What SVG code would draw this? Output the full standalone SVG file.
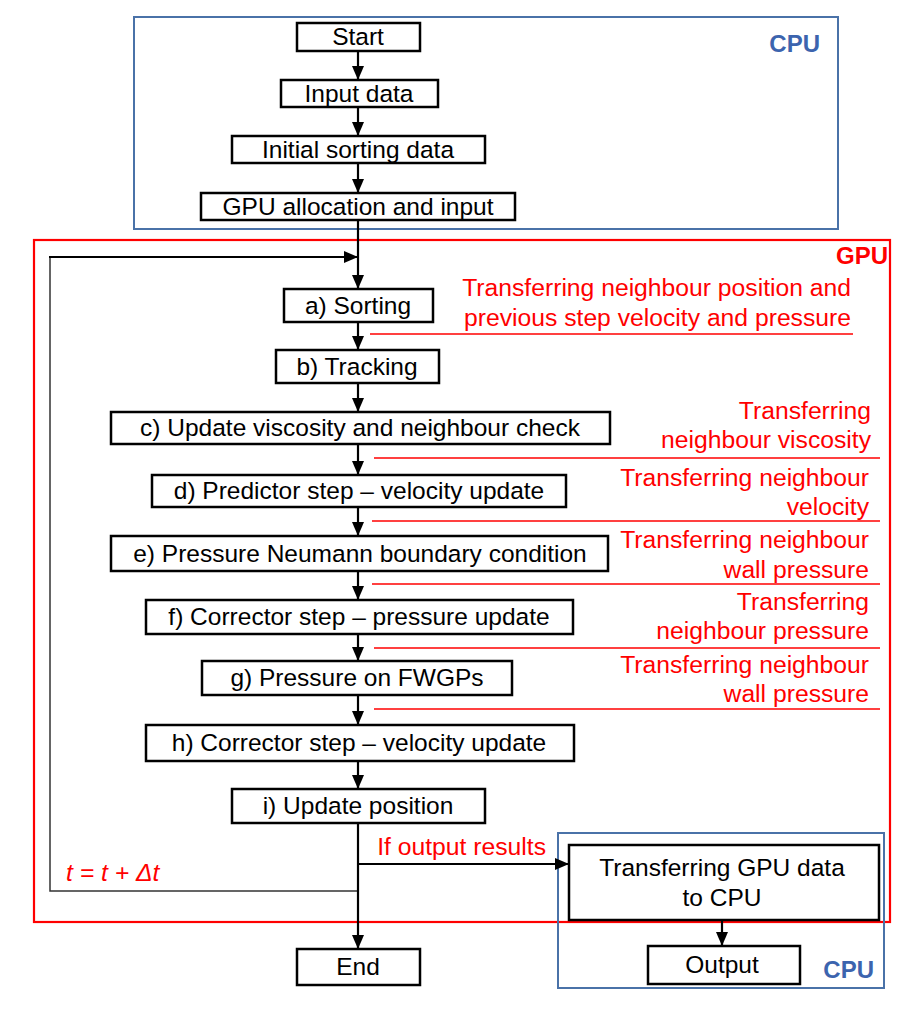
<svg xmlns="http://www.w3.org/2000/svg" width="909" height="1012" viewBox="0 0 909 1012">
<defs>
<marker id="ah" markerUnits="userSpaceOnUse" markerWidth="14" markerHeight="12" refX="14" refY="6" orient="auto">
<path d="M0,0 L14,6 L0,12 z" fill="#000"/>
</marker>
<style>
.box{fill:#fff;stroke:#000;stroke-width:2.5}
.t{font-family:"Liberation Sans",Arial,sans-serif;font-size:24.5px;fill:#000;text-anchor:middle}
.r{font-family:"Liberation Sans",Arial,sans-serif;font-size:24.7px;fill:#f00;text-anchor:end}
.lbl{font-family:"Liberation Sans",Arial,sans-serif;font-size:24px;font-weight:bold}
.cn{stroke:#000;stroke-width:2.2;fill:none}
.rl{stroke:#f00;stroke-width:1.3;fill:none}
.cpu{fill:none;stroke:#4a72a8;stroke-width:2}
</style>
</defs>
<rect width="909" height="1012" fill="#fff"/>
<g id="regions">
<rect class="cpu" x="134" y="17" width="704" height="212"/>
<rect x="34" y="240" width="856" height="682" fill="none" stroke="#f00" stroke-width="2.2"/>
<rect class="cpu" x="558" y="833" width="326" height="155"/>
<text class="lbl" x="820" y="52" fill="#3c64ae" text-anchor="end">CPU</text>
<text class="lbl" x="888" y="264" fill="#f00" text-anchor="end">GPU</text>
<text class="lbl" x="874" y="978" fill="#3c64ae" text-anchor="end">CPU</text>
</g>
<g id="connectors">
<line class="cn" x1="358" y1="51" x2="358" y2="80" marker-end="url(#ah)"/>
<line class="cn" x1="358" y1="107" x2="358" y2="136" marker-end="url(#ah)"/>
<line class="cn" x1="358" y1="163" x2="358" y2="193" marker-end="url(#ah)"/>
<line class="cn" x1="358" y1="220" x2="358" y2="289" marker-end="url(#ah)"/>
<polyline points="358,891 50,891 50,257" fill="none" stroke="#333" stroke-width="1.5"/>
<line class="cn" x1="49" y1="257" x2="358" y2="257" stroke-width="2.5" marker-end="url(#ah)"/>
<line class="cn" x1="358" y1="322" x2="358" y2="350" marker-end="url(#ah)"/>
<line class="cn" x1="358" y1="383" x2="358" y2="412" marker-end="url(#ah)"/>
<line class="cn" x1="358" y1="444" x2="358" y2="475" marker-end="url(#ah)"/>
<line class="cn" x1="358" y1="507" x2="358" y2="536" marker-end="url(#ah)"/>
<line class="cn" x1="358" y1="571" x2="358" y2="600" marker-end="url(#ah)"/>
<line class="cn" x1="358" y1="634" x2="358" y2="661" marker-end="url(#ah)"/>
<line class="cn" x1="358" y1="695" x2="358" y2="725" marker-end="url(#ah)"/>
<line class="cn" x1="358" y1="761" x2="358" y2="789" marker-end="url(#ah)"/>
<line class="cn" x1="358" y1="823" x2="358" y2="949" marker-end="url(#ah)"/>
<line class="cn" x1="358" y1="864" x2="569" y2="864" marker-end="url(#ah)"/>
<line class="cn" x1="722" y1="920" x2="722" y2="946" marker-end="url(#ah)"/>
<line class="rl" x1="370" y1="334" x2="853" y2="334"/>
<line class="rl" x1="374" y1="458" x2="880" y2="458"/>
<line class="rl" x1="372" y1="521" x2="880" y2="521"/>
<line class="rl" x1="372" y1="584" x2="880" y2="584"/>
<line class="rl" x1="374" y1="648" x2="880" y2="648"/>
<line class="rl" x1="374" y1="709" x2="880" y2="709"/>
</g>
<g id="annotations">
<text class="r" x="851" y="296">Transferring neighbour position and</text>
<text class="r" x="851" y="326">previous step velocity and pressure</text>
<text class="r" x="871" y="419">Transferring</text>
<text class="r" x="871" y="448">neighbour viscosity</text>
<text class="r" x="869" y="486">Transferring neighbour</text>
<text class="r" x="869" y="515">velocity</text>
<text class="r" x="869" y="548">Transferring neighbour</text>
<text class="r" x="869" y="578">wall pressure</text>
<text class="r" x="869" y="610">Transferring</text>
<text class="r" x="869" y="639">neighbour pressure</text>
<text class="r" x="869" y="673">Transferring neighbour</text>
<text class="r" x="869" y="702">wall pressure</text>
<text class="r" x="546" y="855">If output results</text>
<text class="r" x="66" y="881" style="text-anchor:start;font-style:italic">t = t + Δt</text>
</g>
<g id="n-start"><rect class="box" x="297" y="23" width="123" height="28"/><text class="t" x="358" y="45">Start</text></g>
<g id="n-input"><rect class="box" x="281" y="80" width="157" height="27"/><text class="t" x="359" y="102">Input data</text></g>
<g id="n-initsort"><rect class="box" x="232" y="136" width="253" height="27"/><text class="t" x="358" y="158">Initial sorting data</text></g>
<g id="n-gpualloc"><rect class="box" x="201" y="193" width="314" height="27"/><text class="t" x="358" y="215">GPU allocation and input</text></g>
<g id="n-a"><rect class="box" x="284" y="289" width="149" height="33"/><text class="t" x="358" y="314">a) Sorting</text></g>
<g id="n-b"><rect class="box" x="276" y="350" width="163" height="33"/><text class="t" x="357" y="375">b) Tracking</text></g>
<g id="n-c"><rect class="box" x="111" y="412" width="499" height="32"/><text class="t" x="360" y="436">c) Update viscosity and neighbour check</text></g>
<g id="n-d"><rect class="box" x="152" y="475" width="414" height="32"/><text class="t" x="359" y="499">d) Predictor step – velocity update</text></g>
<g id="n-e"><rect class="box" x="111" y="536" width="497" height="35"/><text class="t" x="360" y="562">e) Pressure Neumann boundary condition</text></g>
<g id="n-f"><rect class="box" x="146" y="600" width="427" height="34"/><text class="t" x="359" y="625">f) Corrector step – pressure update</text></g>
<g id="n-g"><rect class="box" x="202" y="661" width="310" height="34"/><text class="t" x="357" y="686">g) Pressure on FWGPs</text></g>
<g id="n-h"><rect class="box" x="146" y="725" width="428" height="36"/><text class="t" x="359" y="751">h) Corrector step – velocity update</text></g>
<g id="n-i"><rect class="box" x="232" y="789" width="253" height="34"/><text class="t" x="358" y="814">i) Update position</text></g>
<g id="n-transfer"><rect class="box" x="569" y="845" width="310" height="75"/><text class="t" x="722" y="876">Transferring GPU data</text><text class="t" x="722" y="906">to CPU</text></g>
<g id="n-output"><rect class="box" x="648" y="946" width="152" height="38"/><text class="t" x="722" y="973">Output</text></g>
<g id="n-end"><rect class="box" x="297" y="949" width="123" height="36"/><text class="t" x="358" y="975">End</text></g>
</svg>
